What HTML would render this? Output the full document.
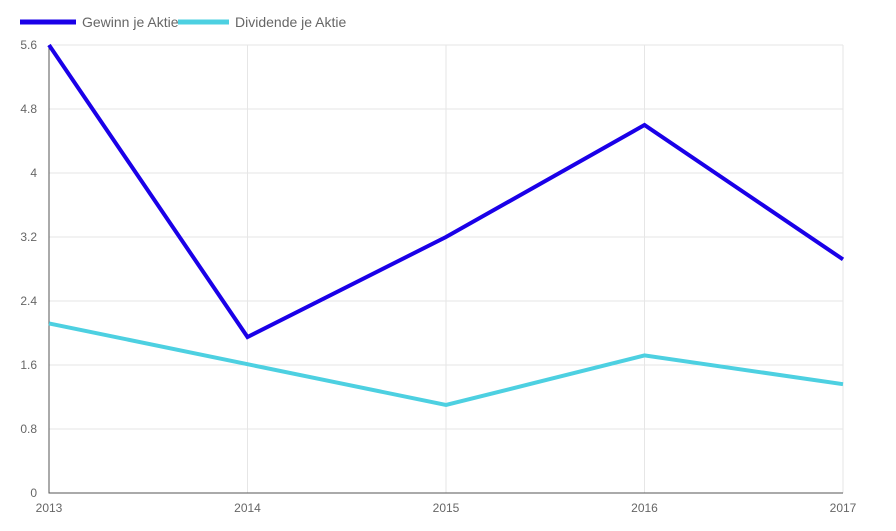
<!DOCTYPE html>
<html><head><meta charset="utf-8"><style>
body{margin:0;background:#fff;font-family:"Liberation Sans",sans-serif}
svg text{font-family:"Liberation Sans",sans-serif}
</style></head><body>
<svg id="chart" width="896" height="526" xmlns="http://www.w3.org/2000/svg">
<g>
<g><line x1="20" y1="22" x2="76" y2="22" stroke="#1a00e8" stroke-width="5"/><text x="82" y="27" font-size="14" fill="#666">Gewinn je Aktie</text></g>
<g><line x1="178" y1="22" x2="229" y2="22" stroke="#4dd0e1" stroke-width="5"/><text x="235" y="27" font-size="14" fill="#666">Dividende je Aktie</text></g>
</g>
<g id="grid"></g>
<g id="axes"></g>
<g id="series"></g>
</svg>
<script>
const categories=["2013","2014","2015","2016","2017"];
const gewinn=[5.6,1.95,3.2,4.6,2.92];
const dividende=[2.12,1.61,1.1,1.72,1.36];
const yTicks=[0,0.8,1.6,2.4,3.2,4,4.8,5.6];
const yTickLabels=["0","0.8","1.6","2.4","3.2","4","4.8","5.6"];
const X0=49,X1=843,Y0=493,Y1=45,YMAX=5.6;
const ns="http://www.w3.org/2000/svg";
function xs(i){return X0+(X1-X0)*i/(categories.length-1);}
function ys(v){return Y0-(Y0-Y1)*v/YMAX;}
function mk(tag,attrs,parent){const e=document.createElementNS(ns,tag);for(const k in attrs)e.setAttribute(k,attrs[k]);parent.appendChild(e);return e;}
const grid=document.getElementById('grid'),axes=document.getElementById('axes'),series=document.getElementById('series');
yTicks.forEach((t,i)=>{
 const l=mk('line',{x1:X0,x2:X1,y1:ys(t),y2:ys(t),stroke:'#e6e6e6','stroke-width':1},grid);
 
 
 const tx=mk('text',{x:37,y:ys(t)+4,'text-anchor':'end','font-size':12,fill:'#666'},axes);
 tx.textContent=yTickLabels[i];
 
 
});
categories.forEach((c,i)=>{
 if(i>0){const l=mk('line',{x1:xs(i),x2:xs(i),y1:Y1,y2:Y0,stroke:'#e6e6e6','stroke-width':1},grid);
 
 }
 const tx=mk('text',{x:xs(i),y:512,'text-anchor':'middle','font-size':12,fill:'#666'},axes);
 tx.textContent=c;
 
 
});
const ax=mk('path',{d:`M${X0} ${Y1}V${Y0}H${X1}`,fill:'none',stroke:'#555','stroke-width':1},axes);


function line(vals,color,name){
 const d=vals.map((v,i)=>(i?'L':'M')+xs(i)+' '+ys(v)).join('');
 const p=mk('path',{d:d,fill:'none',stroke:color,'stroke-width':4,'stroke-linejoin':'miter'},series);
 
 
}
line(dividende,'#4dd0e1','dividende-line');
line(gewinn,'#1a00e8','gewinn-line');
</script>
</body></html>
